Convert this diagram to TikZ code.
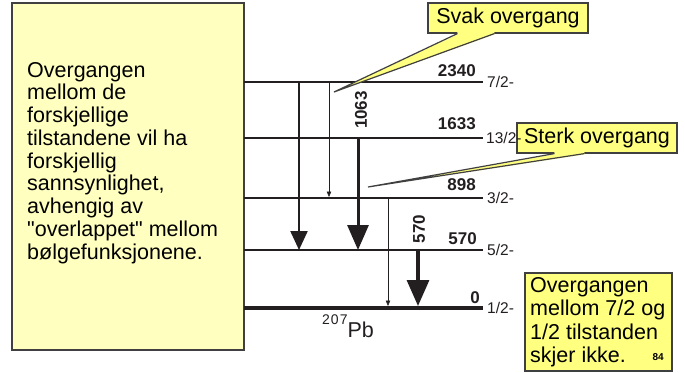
\documentclass[tikz,border=0pt]{standalone}
\usepackage{fontspec}
\setmainfont{Liberation Sans}
\usetikzlibrary{arrows.meta,calc}
\definecolor{lboxfill}{HTML}{FFFFC0}
\definecolor{callfill}{HTML}{FFFF80}
\definecolor{edgegray}{HTML}{404040}
\definecolor{ink}{HTML}{231F20}
\newcommand\strquote{\XeTeXglyph\XeTeXcharglyph"22\relax}
\begin{document}
\begin{tikzpicture}[x=1pt,y=-1pt,
  bigtext/.style={font=\fontsize{21.5}{22.75}\selectfont, align=left, inner sep=0pt, anchor=north west},
  infobox/.style={draw=edgegray, line width=1.3pt, fill=lboxfill, minimum width=232pt, minimum height=347pt, inner sep=0pt},
  callbox/.style={draw=edgegray, line width=1.2pt, fill=callfill, minimum width=160pt, minimum height=30pt, inner sep=0pt, font=\fontsize{21.5}{22.75}\selectfont},
  notebox/.style={draw=edgegray, line width=1.2pt, fill=callfill, minimum width=147pt, minimum height=98pt, inner sep=0pt},
  level/.style={draw=ink, line width=1.7pt},
  groundlevel/.style={draw=ink, line width=4pt},
  elabel/.style={font=\fontsize{17}{17}\selectfont\bfseries, inner sep=0pt, text=ink},
  spin/.style={font=\fontsize{15.5}{15.5}\selectfont, inner sep=0pt, anchor=base west, text=ink},
  thinarrow/.style={draw=ink, line width=0.6pt, -{Triangle[width=4.5pt,length=5.5pt]}},
  thickA/.style={draw=ink, line width=2.3pt, -{Triangle[width=17pt,length=19pt]}},
  thickB/.style={draw=ink, line width=3pt, -{Triangle[width=21pt,length=25pt]}},
  thickC/.style={draw=ink, line width=3.3pt, -{Triangle[width=22pt,length=26pt]}},
  wedge/.style={draw=edgegray, line width=1.2pt, line join=miter}
]
\useasboundingbox (0,0) rectangle (685,372);

% left info box
\node[infobox] (info) at (128,176.5) {};
\node[bigtext] (infotext) at (27,62) {Overgangen\\mellom de\\forskjellige\\tilstandene vil ha\\forskjellig\\sannsynlighet,\\avhengig av\\\strquote overlappet\strquote{} mellom\\bølgefunksjonene.};

% levels
\coordinate (l2340a) at (244,82);  \coordinate (l2340b) at (483,82);
\coordinate (l1633a) at (244,138); \coordinate (l1633b) at (483,138);
\coordinate (l898a)  at (244,198); \coordinate (l898b)  at (483,198);
\coordinate (l570a)  at (244,250); \coordinate (l570b)  at (483,250);
\coordinate (l0a)    at (244,308); \coordinate (l0b)    at (483,308);
\draw[level] (l2340a) -- (l2340b);
\draw[level] (l1633a) -- (l1633b);
\draw[level] (l898a) -- (l898b);
\draw[level] (l570a) -- (l570b);
\draw[groundlevel] (l0a) -- (l0b);

% energy labels
\node[elabel, anchor=base east] (e2340) at (476,76) {2340};
\node[elabel, anchor=base east] (e1633) at (476,129) {1633};
\node[elabel, anchor=base east] (e898)  at (476,190) {898};
\node[elabel, anchor=base east] (e570)  at (477,244) {570};
\node[elabel, anchor=base east] (e0)    at (480,303) {0};

% transition x positions
\coordinate (xa) at (299,0);
\coordinate (xb) at (329,0);
\coordinate (xc) at (358,0);
\coordinate (xd) at (388,0);
\coordinate (xe) at (418,0);
\coordinate (groundtop) at (0,306);

\draw[thickA] (xa |- l2340a) -- (xa |- l570a);
\draw[thinarrow] (xb |- l2340a) -- ($(xb |- l898a)+(0,-1)$);
\draw[thickB] (xc |- l1633a) -- (xc |- l570a);
\draw[thinarrow] (xd |- l898a) -- (xd |- groundtop);
\draw[thickC] (xe |- l570a) -- (xe |- groundtop);

\node[elabel, rotate=90] (t1063) at (361,110) {1063};
\node[elabel, rotate=90] (t570) at (419,229) {570};

% nucleus label
\node[anchor=base west, inner sep=0pt, text=ink] (nuc) at (322,337) {\raisebox{13pt}{\fontsize{14}{14}\selectfont 2\kern1pt0\kern1pt7}\fontsize{21.5}{21.5}\selectfont Pb};

% callout: Svak overgang
\node[callbox] (svak) at (508,18) {Svak overgang};
\coordinate (svaktip) at (334,92);
\fill[callfill] ($(svak.south west)+(30,-2)$) -- ($(svak.south west)+(30,0.8)$) -- (svaktip) -- ($(svak.south west)+(67,0.8)$) -- ($(svak.south west)+(67,-2)$) -- cycle;
\draw[wedge] ($(svak.south west)+(30,0)$) -- (svaktip) -- ($(svak.south west)+(67,0)$);

% callout: Sterk overgang
\node[callbox] (sterk) at (597,138) {Sterk overgang};
\coordinate (sterktip) at (368,187);
\fill[callfill] ($(sterk.south west)+(38,-2)$) -- ($(sterk.south west)+(38,0.8)$) -- (sterktip) -- ($(sterk.south west)+(68,0.8)$) -- ($(sterk.south west)+(68,-2)$) -- cycle;
\draw[wedge] ($(sterk.south west)+(38,0)$) -- (sterktip) -- ($(sterk.south west)+(68,0)$);

% spin labels
\node[spin] (s2340) at (487,87) {7/2-};
\node[spin] (s1633) at (486,143) {13/2-};
\node[spin] (s898)  at (487,203) {3/2-};
\node[spin] (s570)  at (487,255) {5/2-};
\node[spin] (s0)    at (487,313) {1/2-};

% note box
\node[notebox] (note) at (598.5,322) {};
\node[bigtext, font=\fontsize{21.5}{23.5}\selectfont] (notetext) at (530,277) {Overgangen\\mellom 7/2 og\\1/2 tilstanden\\skjer ikke.};
\node[anchor=base east, inner sep=0pt, font=\fontsize{10}{10}\selectfont\bfseries] (pagenum) at (664,360) {84};
\end{tikzpicture}
\end{document}
